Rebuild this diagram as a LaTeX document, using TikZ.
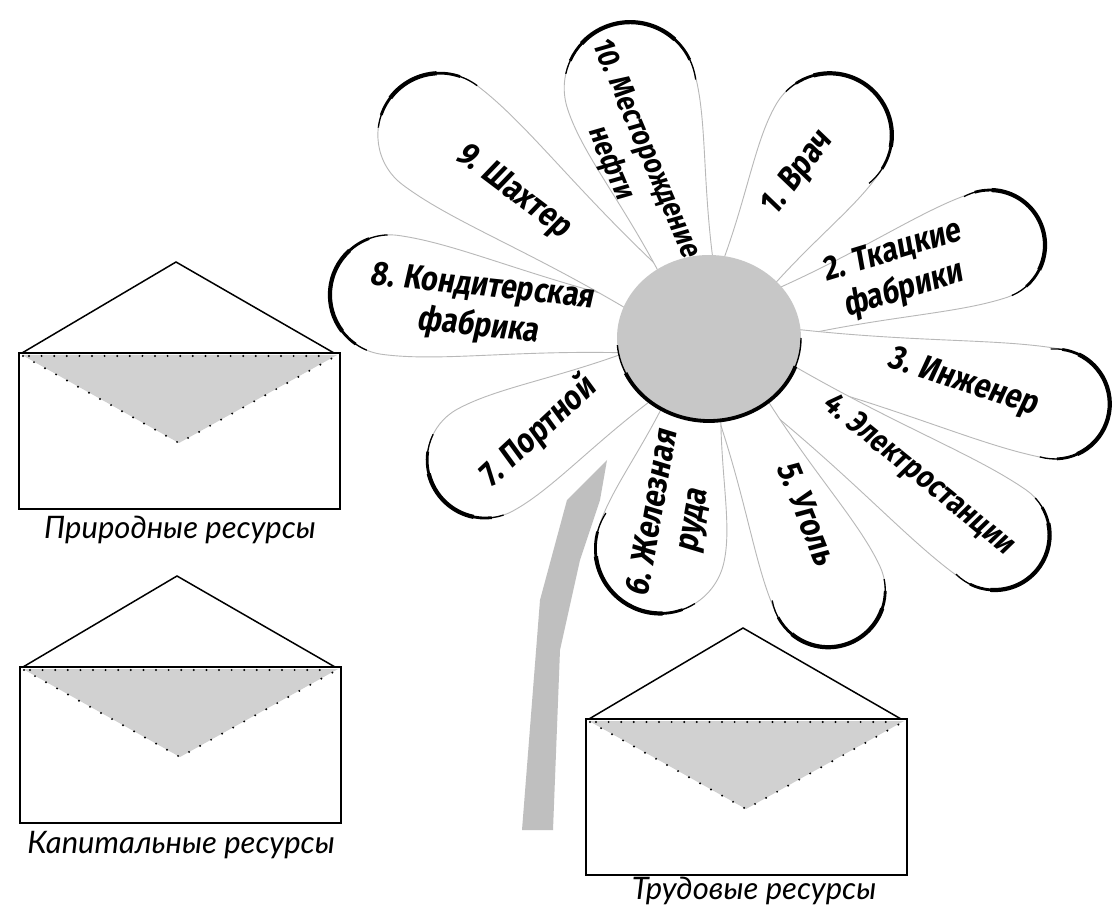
\documentclass[tikz,border=0pt]{standalone}
\usepackage{fontspec}
\newfontfamily\petalfont{Fira Sans}[FakeStretch=0.85,FakeSlant=0.12]
\newfontfamily\labelfont{Lato}
\colorlet{stemgray}{black!25}
\colorlet{heartgray}{black!22}
\colorlet{envgray}{black!18}
\colorlet{rimgray}{black!28}
\tikzset{
  petalfill/.style={fill=white,draw=rimgray,line width=0.9pt},
  petaltext/.style={font=\petalfont\bfseries\fontsize{34}{40}\selectfont,align=center,inner sep=0pt},
  envlabel/.style={font=\labelfont\itshape\fontsize{31}{36}\selectfont,inner sep=0pt},
  envline/.style={line width=1.3pt},
  envdots/.style={line width=2.2pt,line cap=round,dash pattern=on 0pt off 12.6pt},
  envelope/.pic={
    \fill[envgray] (3,154) -- (160,66) -- (318,154) -- cycle;
    \draw[envline] (0,0) rectangle (321,156);
    \draw[line width=1.5pt] (3,156) -- (157,247) -- (315,156);
    \draw[envdots] (4,153) -- (160,66) -- (317,153);
    \draw[envdots] (10,153) -- (312,153);
    \draw[line width=2.6pt] (3,156) -- (317,156);
  }
}
% petal: theta, L, R
\newcommand\petalshape[3]{%
  \begin{scope}[shift={(709,570)},rotate=#1]
    \path[petalfill] (40,-22) .. controls ({0.55*#2},{-0.55*#3}) and ({0.8*#2},{-#3}) .. (#2,-#3)
      arc[start angle=-90,end angle=90,radius=#3]
      .. controls ({0.8*#2},{#3}) and ({0.55*#2},{0.55*#3}) .. (40,22) -- cycle;
  \end{scope}}
% rim: theta, L, R, a1, a2
\newcommand\petalrim[5]{%
  \begin{scope}[shift={(709,570)},rotate=#1]
    \draw[line width=1.3pt] ([shift={(#4:#3)}]#2,0) arc[start angle=#4,end angle=#5,radius=#3];
    \draw[line width=2.8pt] ([shift={({#4+18}:#3)}]#2,0) arc[start angle={#4+18},end angle={#5-12},radius=#3];
    \draw[line width=4.2pt] ([shift={({#4+40}:#3)}]#2,0) arc[start angle={#4+40},end angle={#5-30},radius=#3];
  \end{scope}}
\begin{document}
\begin{tikzpicture}[x=1pt,y=1pt]
\useasboundingbox (0,0) rectangle (1115,908);
\fill[white] (0,0) rectangle (1115,908);
% stem
\fill[stemgray] (607,448) -- (567,408) -- (540,308) -- (522,78) -- (553,78) -- (560,258) -- (580,348) -- (600,408) -- cycle;
% petals
\petalshape{59.2}{236}{62}
\petalshape{18.3}{296}{55}
\petalshape{-10.8}{352}{55}
\petalshape{-34.6}{347}{55}
\petalshape{-64.7}{279}{57}
\petalshape{257}{216}{65}
\petalshape{208.6}{255}{58}
\petalshape{172.3}{322}{60}
\petalshape{143}{337}{62}
\petalshape{107.5}{262}{66}
% rims
\petalrim{59.2}{236}{62}{-110}{76}
\petalrim{18.3}{296}{55}{-85}{100}
\petalrim{-10.8}{352}{55}{-95}{105}
\petalrim{-34.6}{347}{55}{-100}{77}
\petalrim{-64.7}{279}{57}{-105}{76}
\petalrim{257}{216}{65}{-110}{45}
\petalrim{208.6}{255}{58}{-55}{80}
\petalrim{172.3}{322}{60}{-80}{75}
\petalrim{143}{337}{62}{-90}{30}
\petalrim{107.5}{262}{66}{-100}{60}
% heart
\fill[heartgray] (709,570) ellipse[x radius=92,y radius=83];
\draw[line width=1.4pt] ([shift={(185:92 and 83)}]709,570) arc[start angle=185,end angle=360,x radius=92,y radius=83];
\draw[line width=3.8pt] ([shift={(205:92 and 83)}]709,570) arc[start angle=205,end angle=340,x radius=92,y radius=83];
% petal texts
\node[petaltext,rotate=53] (t1) at (798,734) {1. Врач};
\node[petaltext,rotate=17] (t2) at (898,636) {2. Ткацкие\\фабрики};
\node[petaltext,rotate=-18] (t3) at (963,525) {3. Инженер};
\node[petaltext,rotate=-39,font=\petalfont\bfseries\fontsize{31.5}{38}\selectfont] (t4) at (918,433) {4. Электростанции};
\node[petaltext,rotate=-68] (t5) at (807,395) {5. Уголь};
\node[petaltext,rotate=80] (t6) at (674,391) {6. Железная\\руда};
\node[petaltext,rotate=43] (t7) at (538,476) {7. Портной};
\node[petaltext,rotate=-6] (t8) at (480,600) {8. Кондитерская\\фабрика};
\node[petaltext,rotate=-37] (t9) at (513,716) {9. Шахтер};
\node[petaltext,rotate=-67,font=\petalfont\bfseries\fontsize{30}{38}\selectfont] (t10) at (627,752) {10. Месторождение\\нефти};
% envelopes
\pic (e1) at (19,399) {envelope};
\pic (e2) at (20,85) {envelope};
\pic (e3) at (586,33) {envelope};
\node[envlabel] (l1) at (180,378) {Природные ресурсы};
\node[envlabel] (l2) at (181,63) {Капитальные ресурсы};
\node[envlabel] (l3) at (754,17) {Трудовые ресурсы};
\end{tikzpicture}
\end{document}
